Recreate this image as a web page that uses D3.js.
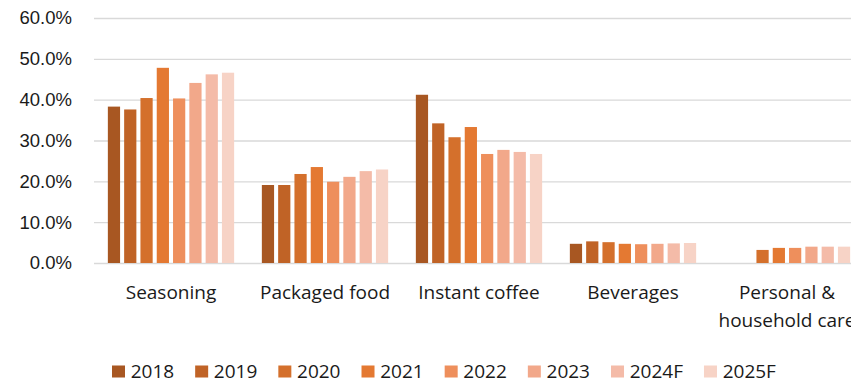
<!DOCTYPE html>
<html>
<head>
<meta charset="utf-8">
<script src="https://cdn.jsdelivr.net/npm/d3@7"></script>
<style>
  html, body { margin: 0; padding: 0; background: #fff; overflow: hidden; }
  svg { display: block; font-family: "Open Sans", "Noto Sans", sans-serif; }
</style>
</head>
<body>
<svg id="chart" width="851" height="383"></svg>
<script>
// Market share by category (%), 2018–2025F
const categories = ["Seasoning", "Packaged food", "Instant coffee", "Beverages", "Personal & household care"];
const years = ["2018", "2019", "2020", "2021", "2022", "2023", "2024F", "2025F"];
const seasoning     = [38.3, 37.6, 40.4, 47.8, 40.3, 44.1, 46.2, 46.6];
const packagedFood  = [19.1, 19.1, 21.8, 23.5, 19.9, 21.1, 22.5, 22.9];
const instantCoffee = [41.2, 34.2, 30.8, 33.3, 26.7, 27.7, 27.2, 26.7];
const beverages     = [4.7, 5.3, 5.1, 4.7, 4.6, 4.7, 4.8, 4.9];
const personalCare  = [null, null, 3.2, 3.7, 3.7, 4.0, 4.0, 4.0];
const yTicks = [0, 10, 20, 30, 40, 50, 60];
const colors = ["#a85722", "#c06326", "#d4702c", "#e47932", "#ee8f5c", "#f2a88a", "#f4bba8", "#f7d3c6"];

const seriesByCategory = [seasoning, packagedFood, instantCoffee, beverages, personalCare];
const rows = categories.map((c, i) => ({
  category: c,
  values: years.map((y, j) => ({ year: y, value: seriesByCategory[i][j] }))
}));

const svg = d3.select("#chart");
const plot = { left: 94, right: 864, top: 18, bottom: 263 };

const x0 = d3.scaleBand().domain(categories).range([plot.left, plot.right]).padding(0);
const x1 = d3.scaleBand().domain(years).range([0, x0.bandwidth()])
  .paddingInner(0.25).paddingOuter(0.85);
const y = d3.scaleLinear().domain([0, 60]).range([plot.bottom, plot.top]);
const color = d3.scaleOrdinal().domain(years).range(colors);

// Horizontal gridlines and y-axis labels
const yAxis = d3.axisLeft(y).tickValues(yTicks)
  .tickFormat(d => d.toFixed(1) + "%")
  .tickSize(-(plot.right - plot.left)).tickPadding(22);
const gy = svg.append("g").attr("transform", `translate(${plot.left},0)`).call(yAxis);
gy.select(".domain").remove();
gy.selectAll(".tick line").attr("stroke", "#d9d9d9").attr("stroke-width", 1.4);
gy.selectAll(".tick text").attr("fill", "#1a1a1a").attr("font-size", 18.5);

// Bars
const groups = svg.append("g").selectAll("g").data(rows).join("g")
  .attr("transform", d => `translate(${x0(d.category)},0)`);
groups.selectAll("rect").data(d => d.values.filter(v => v.value != null)).join("rect")
  .attr("x", d => x1(d.year))
  .attr("y", d => y(d.value))
  .attr("width", x1.bandwidth())
  .attr("height", d => y(0) - y(d.value))
  .attr("fill", d => color(d.year));

// Category labels (long names wrap onto two lines)
const labelLines = { "Personal & household care": ["Personal &", "household care"] };
const xl = svg.append("g");
rows.forEach(r => {
  const cx = x0(r.category) + x0.bandwidth() / 2;
  const lines = labelLines[r.category] || [r.category];
  const t = xl.append("text")
    .attr("x", cx)
    .attr("y", 299)
    .attr("text-anchor", "middle")
    .attr("font-size", 19)
    .attr("fill", "#1a1a1a");
  lines.forEach((ln, i) => {
    t.append("tspan").attr("x", cx).attr("dy", i === 0 ? 0 : 28).text(ln);
  });
});

// Legend
const legend = svg.append("g");
let lx = 112;
years.forEach(yr => {
  const g = legend.append("g").attr("transform", `translate(${lx},0)`);
  g.append("rect").attr("x", 0).attr("y", 365.5).attr("width", 13).attr("height", 12)
    .attr("fill", color(yr));
  const t = g.append("text").attr("x", 18.7).attr("y", 377.5)
    .attr("font-size", 19).attr("fill", "#1a1a1a").text(yr);
  lx += 18.7 + t.node().getComputedTextLength() + 21;
});
</script>
</body>
</html>
